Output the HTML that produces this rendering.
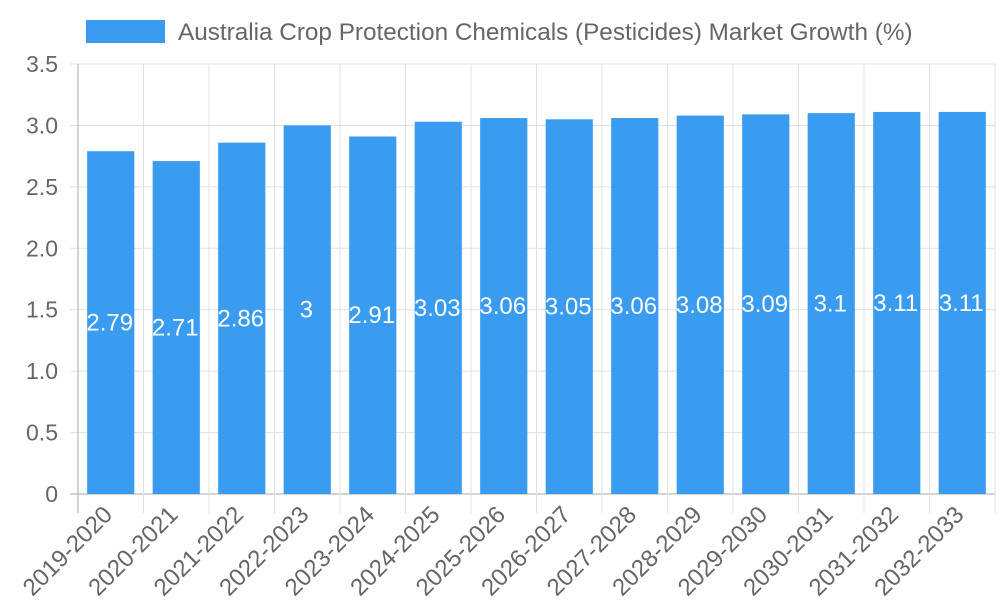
<!DOCTYPE html>
<html><head><meta charset="utf-8"><style>
body{margin:0;background:#fff}
svg text{font-family:"Liberation Sans",sans-serif}
</style></head><body>
<svg id="c" width="1000" height="600">
<rect x="86" y="20" width="79" height="23" fill="#399cf0"/>
<text x="178" y="40" font-size="24.3" fill="#666">Australia Crop Protection Chemicals (Pesticides) Market Growth (%)</text>
<g id="grid"></g><g id="bars"></g><g id="labels"></g>
</svg>
<script>
const categories=["2019-2020","2020-2021","2021-2022","2022-2023","2023-2024","2024-2025","2025-2026","2026-2027","2027-2028","2028-2029","2029-2030","2030-2031","2031-2032","2032-2033"];
const values=[2.79,2.71,2.86,3,2.91,3.03,3.06,3.05,3.06,3.08,3.09,3.1,3.11,3.11];
const yTicks=[0,0.5,1,1.5,2,2.5,3,3.5];
const yTickLabels=["0","0.5","1.0","1.5","2.0","2.5","3.0","3.5"];
const NS="http://www.w3.org/2000/svg";
const L=78,R=995,T=64,B=494,yMax=3.5;
const y=v=>B-(v/yMax)*(B-T);
const step=(R-L)/categories.length;
const x=i=>L+step*i;
function mk(tag,attrs,parent,text){const e=document.createElementNS(NS,tag);for(const k in attrs)e.setAttribute(k,attrs[k]);if(text!==undefined)e.textContent=text;document.getElementById(parent).appendChild(e);return e;}
yTicks.forEach((t,i)=>{
  const g=mk('line',{x1:L-8,x2:R,y1:y(t),y2:y(t),stroke:i===0?'#aaa':'#e0e0e0','stroke-width':1},'grid');
  
  
  const tl=mk('text',{x:L-20,y:y(t)+8,'text-anchor':'end','font-size':23,fill:'#666'},'labels',yTickLabels[i]);
  
  
});
for(let i=0;i<=categories.length;i++){
  const g=mk('line',{x1:x(i),x2:x(i),y1:T,y2:B+19,stroke:i===0?'#aaa':'#e0e0e0','stroke-width':1},'grid');
  
  
}
categories.forEach((c,i)=>{
  const bw=step*0.72,cx=x(i)+step/2;
  const b=mk('rect',{x:cx-bw/2,y:y(values[i]),width:bw,height:B-y(values[i]),fill:'#399cf0'},'bars');
  
  
  const v=mk('text',{x:cx-1,y:(y(values[i])+B)/2+8,'text-anchor':'middle','font-size':24,fill:'#fff'},'labels',String(values[i]));
  
  
  const tx=cx+3,ty=B+22;
  const xl=mk('text',{x:tx,y:ty,'text-anchor':'end','font-size':24,fill:'#666',transform:`rotate(-45 ${tx} ${ty})`},'labels',c);
  
  
});
</script>
</body></html>
